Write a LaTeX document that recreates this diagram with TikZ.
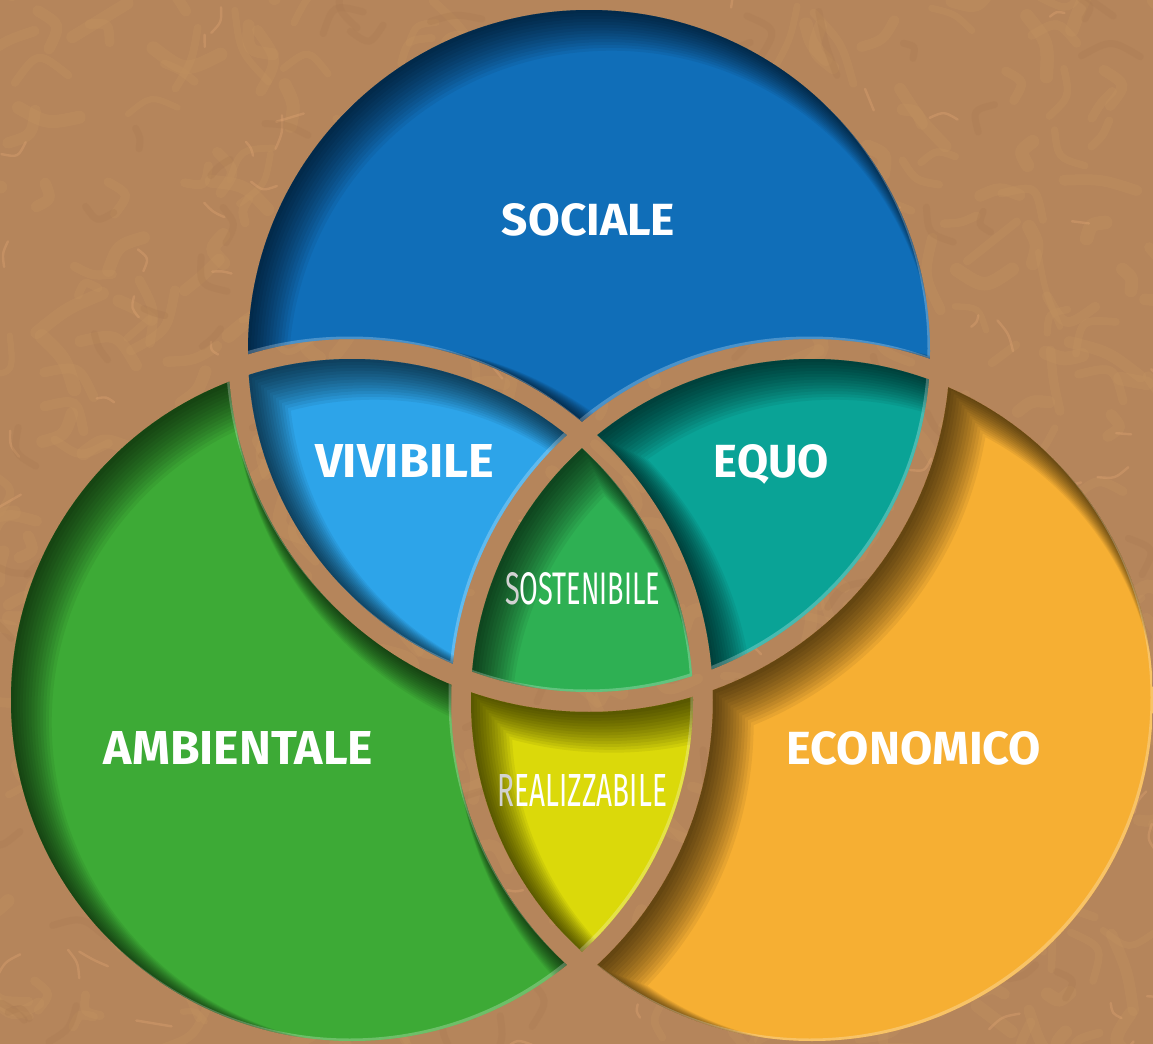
\documentclass[tikz,border=0pt]{standalone}
\usepackage{fontspec}
\usepackage{graphicx}
\setmainfont{Fira Sans}
\definecolor{bg}{HTML}{B5855B}
\definecolor{blob}{HTML}{C0905F}
\definecolor{blobdark}{HTML}{A97A52}
\definecolor{bright}{HTML}{DCA271}
\definecolor{csoc}{HTML}{106EB8}
\definecolor{cviv}{HTML}{2DA4E9}
\definecolor{cequ}{HTML}{0AA396}
\definecolor{csos}{HTML}{2EB053}
\definecolor{camb}{HTML}{3DAA36}
\definecolor{ceco}{HTML}{F6AF33}
\definecolor{crea}{HTML}{DBD90A}
\definecolor{lgray}{HTML}{D2D2D2}
\newcommand\inC[1]{\clip (#1) circle (341);}
\newcommand\outC[1]{\clip (-200,-200) rectangle (1400,1300) (#1) circle (361);}
\newcommand\regshade{%
  \foreach \k in {0,...,13}{%
    \pgfmathsetmacro\s{3+1.5*\k}%
    \pgfmathsetmacro\lw{10+1.4*\k}%
    \draw[black,opacity=0.058,line width=\lw pt] ([shift={(\s,\s)}]T) circle (351)
      ([shift={(\s,\s)}]L) circle (351) ([shift={(\s,\s)}]R) circle (351);
  }%
  \draw[white,opacity=0.25,line width=10pt] ([shift={(-2.5,-2.5)}]T) circle (351)
      ([shift={(-2.5,-2.5)}]L) circle (351) ([shift={(-2.5,-2.5)}]R) circle (351);
}
\begin{document}
\begin{tikzpicture}[x=0.5pt,y=-0.5pt,
  lab/.style={anchor=base,inner sep=0pt,text=white}]
\useasboundingbox (0,0) rectangle (1153,1044);
\fill[bg] (0,0) rectangle (1153,1044);
% cork texture
\pgfmathsetseed{12}
\foreach \i in {1,...,460}{
  \pgfmathsetmacro\xa{rnd*1220-30}
  \pgfmathsetmacro\ya{rnd*1110-30}
  \pgfmathsetmacro\ang{rnd*360}
  \pgfmathsetmacro\len{12+rnd*30}
  \pgfmathsetmacro\xb{\xa+\len*cos(\ang)}
  \pgfmathsetmacro\yb{\ya+\len*sin(\ang)}
  \pgfmathsetmacro\angb{\ang+rnd*200-100}
  \pgfmathsetmacro\xc{\xb+\len*cos(\angb)}
  \pgfmathsetmacro\yc{\yb+\len*sin(\angb)}
  \pgfmathsetmacro\lw{3+rnd*4}
  \draw[blob,opacity=0.45,line width=\lw pt,line cap=round] (\xa,\ya) .. controls (\xb,\yb) .. (\xc,\yc);
}
\foreach \i in {1,...,110}{
  \pgfmathsetmacro\xa{rnd*1220-30}
  \pgfmathsetmacro\ya{rnd*1110-30}
  \pgfmathsetmacro\ang{rnd*360}
  \pgfmathsetmacro\len{6+rnd*12}
  \pgfmathsetmacro\xb{\xa+\len*cos(\ang)}
  \pgfmathsetmacro\yb{\ya+\len*sin(\ang)}
  \pgfmathsetmacro\angb{\ang+rnd*160-80}
  \pgfmathsetmacro\xc{\xb+\len*cos(\angb)}
  \pgfmathsetmacro\yc{\yb+\len*sin(\angb)}
  \draw[bright,opacity=0.4,line width=1.2pt,line cap=round] (\xa,\ya) .. controls (\xb,\yb) .. (\xc,\yc);
}
\foreach \i in {1,...,120}{
  \pgfmathsetmacro\xa{rnd*1220-30}
  \pgfmathsetmacro\ya{rnd*1110-30}
  \pgfmathsetmacro\ang{rnd*360}
  \pgfmathsetmacro\len{10+rnd*25}
  \pgfmathsetmacro\xb{\xa+\len*cos(\ang)}
  \pgfmathsetmacro\yb{\ya+\len*sin(\ang)}
  \pgfmathsetmacro\angb{\ang+rnd*200-100}
  \pgfmathsetmacro\xc{\xb+\len*cos(\angb)}
  \pgfmathsetmacro\yc{\yb+\len*sin(\angb)}
  \draw[blobdark,opacity=0.3,line width=3.5pt,line cap=round] (\xa,\ya) .. controls (\xb,\yb) .. (\xc,\yc);
}
\coordinate (T) at (589,351);
\coordinate (L) at (352,700);
\coordinate (R) at (812,700);
% regions
\begin{scope}[even odd rule]\inC{T}\outC{L}\outC{R}\fill[csoc] (0,0) rectangle (1153,1044);\regshade\end{scope}
\begin{scope}[even odd rule]\inC{L}\outC{T}\outC{R}\fill[camb] (0,0) rectangle (1153,1044);\regshade\end{scope}
\begin{scope}[even odd rule]\inC{R}\outC{T}\outC{L}\fill[ceco] (0,0) rectangle (1153,1044);\regshade\end{scope}
\begin{scope}[even odd rule]\inC{T}\inC{L}\outC{R}\fill[cviv] (0,0) rectangle (1153,1044);\regshade\end{scope}
\begin{scope}[even odd rule]\inC{T}\inC{R}\outC{L}\fill[cequ] (0,0) rectangle (1153,1044);\regshade\end{scope}
\begin{scope}[even odd rule]\inC{L}\inC{R}\outC{T}\fill[crea] (0,0) rectangle (1153,1044);\regshade\end{scope}
\begin{scope}[even odd rule]\inC{T}\inC{L}\inC{R}\fill[csos] (0,0) rectangle (1153,1044);\regshade\end{scope}
% labels
\node[lab] (soc) at (588.5,235) {\resizebox{86.5pt}{16pt}{\bfseries SOCIALE}};
\node[lab] (viv) at (404.5,477.5) {\resizebox{89.5pt}{16.5pt}{\bfseries VIVIBILE}};
\node[lab] (equ) at (771.5,477.5) {\resizebox{57.5pt}{16.5pt}{\bfseries EQUO}};
\node[lab] (amb) at (238.5,764.5) {\resizebox{134.5pt}{16.5pt}{\bfseries AMBIENTALE}};
\node[lab] (eco) at (914,764.5) {\resizebox{127pt}{16.5pt}{\bfseries ECONOMICO}};
\node[lab] (sos) at (582.5,604) {\resizebox{77.5pt}{16pt}{{\color{lgray}S}OSTENIBILE}};
\node[lab] (rea) at (582.5,806) {\resizebox{84.5pt}{16pt}{{\color{lgray}R}EALIZZABILE}};
\end{tikzpicture}
\end{document}
